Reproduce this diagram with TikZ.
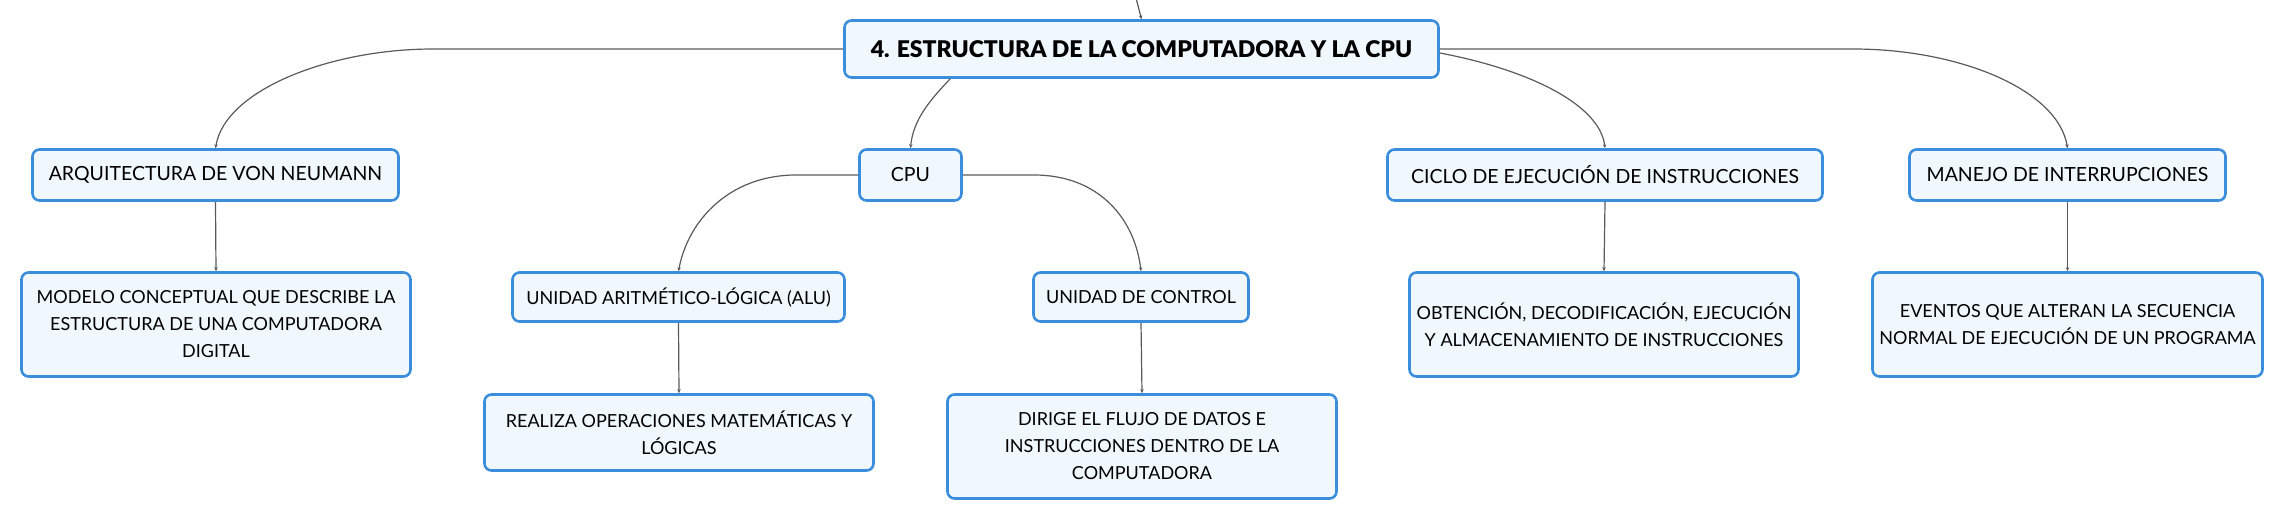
\documentclass[tikz,border=0pt]{standalone}
\usepackage{fontspec}
\setmainfont{Lato}
\newfontfamily\titlefont{Lato Black}
\usetikzlibrary{arrows.meta}
\definecolor{boxblue}{HTML}{3B8EDB}
\definecolor{boxfill}{HTML}{F0F7FD}
\definecolor{linkgray}{HTML}{5A5A5A}
\begin{document}
\begin{tikzpicture}[x=1pt,y=-1pt,
  box/.style={draw=boxblue, line width=2.6pt, fill=boxfill, rounded corners=7pt,
    align=center, inner sep=0pt, text=black, font=\fontsize{18}{27}\selectfont},
  topicbox/.style={box, font=\fontsize{19.5}{27}\selectfont},
  rootbox/.style={box, font=\fontsize{23}{27}\selectfont\titlefont},
  link/.style={draw=linkgray, line width=1.2pt, -{Stealth[length=4pt,width=3.5pt]}}]
\useasboundingbox (0,0) rectangle (2284,520);
\node[rootbox, minimum width=594pt, minimum height=57pt] (root) at (1141.5,49) {4. ESTRUCTURA DE LA COMPUTADORA Y LA CPU};
\node[topicbox, minimum width=366pt, minimum height=51pt] (arq) at (215.5,175) {ARQUITECTURA DE VON NEUMANN};
\node[topicbox, minimum width=102pt, minimum height=51pt] (cpu) at (910.5,175) {CPU};
\node[topicbox, minimum width=435pt, minimum height=51pt] (ciclo) at (1605,175) {CICLO DE EJECUCIÓN DE INSTRUCCIONES};
\node[topicbox, minimum width=316pt, minimum height=51pt] (manejo) at (2067.5,175) {MANEJO DE INTERRUPCIONES};
\node[box, minimum width=389pt, minimum height=104pt] (modelo) at (216,324.5) {MODELO CONCEPTUAL QUE DESCRIBE LA\\ESTRUCTURA DE UNA COMPUTADORA\\DIGITAL};
\node[box, minimum width=332pt, minimum height=49pt] (alu) at (678.5,297) {UNIDAD ARITMÉTICO-LÓGICA (ALU)};
\node[box, minimum width=215pt, minimum height=49pt] (uc) at (1141,297) {UNIDAD DE CONTROL};
\node[box, minimum width=389pt, minimum height=104pt] (obt) at (1604,324.5) {OBTENCIÓN, DECODIFICACIÓN, EJECUCIÓN\\Y ALMACENAMIENTO DE INSTRUCCIONES};
\node[box, minimum width=390pt, minimum height=104pt] (evt) at (2067.5,324.5) {EVENTOS QUE ALTERAN LA SECUENCIA\\NORMAL DE EJECUCIÓN DE UN PROGRAMA};
\node[box, minimum width=389pt, minimum height=76pt] (real) at (679,432.5) {REALIZA OPERACIONES MATEMÁTICAS Y\\LÓGICAS};
\node[box, minimum width=389pt, minimum height=104pt] (dir) at (1142,446.5) {DIRIGE EL FLUJO DE DATOS E\\INSTRUCCIONES DENTRO DE LA\\COMPUTADORA};
\coordinate (top) at (1136,-2);
\draw[link] (top) -- (root.north);
\draw[link] (root.west) -- (433,49) .. controls (330,49) and (225,90) .. (arq.north);
\draw[link] ([xshift=107pt]root.south west) .. controls (930,100) and (913,120) .. (cpu.north);
\draw[link] ([yshift=-4pt]root.east) .. controls (1530,70) and (1600,105) .. (ciclo.north);
\draw[link] (root.east) -- (1853,49) .. controls (1960,49) and (2058,90) .. (manejo.north);
\draw[link] (cpu.west) -- (796,175) .. controls (730,175) and (688,220) .. (alu.north);
\draw[link] (cpu.east) -- (1034,175) .. controls (1100,175) and (1135,220) .. (uc.north);
\draw[link] (arq.south) -- (modelo.north);
\draw[link] (alu.south) -- (real.north);
\draw[link] (uc.south) -- (dir.north);
\draw[link] (ciclo.south) -- (obt.north);
\draw[link] (manejo.south) -- (evt.north);
\end{tikzpicture}
\end{document}
